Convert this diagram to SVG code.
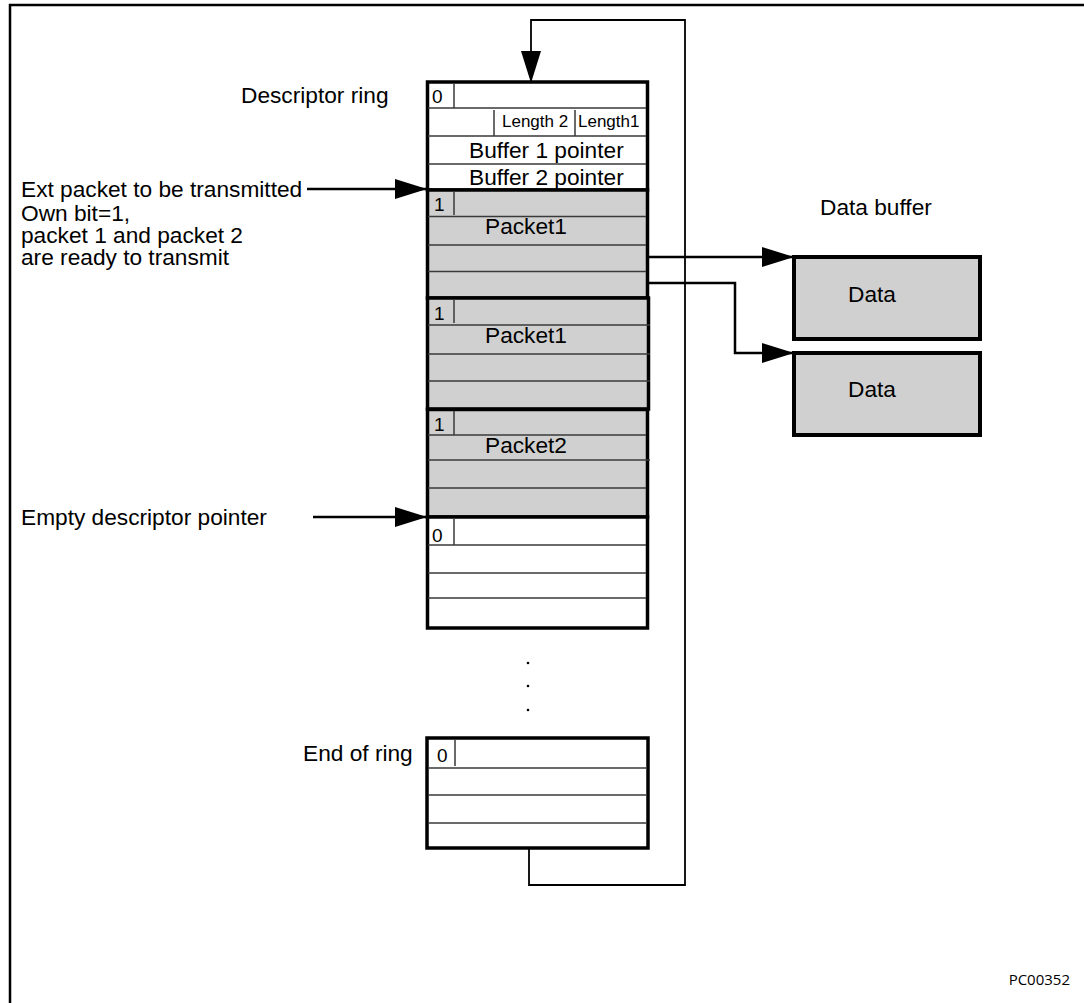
<svg xmlns="http://www.w3.org/2000/svg" width="1084" height="1003" viewBox="0 0 1084 1003">
<defs>
<style>
text{font-family:"Liberation Sans",Arial,sans-serif;fill:#000}
.lbl{font-size:22.7px}
.sm{font-size:17px}
.bit{font-size:19px}
.blk{stroke:#000;stroke-width:3.5}
.w{fill:#fff}
.g{fill:#d0d0d0}
.row{stroke:#3a3a3a;stroke-width:1.5;fill:none}
.con{stroke:#000;stroke-width:2.5;fill:none}
.loop{stroke:#000;stroke-width:1.8;fill:none}
.data{fill:#d0d0d0;stroke:#000;stroke-width:4}
</style>
<marker id="ah" markerUnits="userSpaceOnUse" markerWidth="32" markerHeight="20" viewBox="0 0 32 20" refX="31" refY="10" orient="auto">
<path d="M0,0 L32,10 L0,20 Z" fill="#000"/>
</marker>
</defs>
<rect width="1084" height="1003" fill="#fff"/>
<path d="M10,1003 V5 H1084" fill="none" stroke="#000" stroke-width="2.5"/>

<g id="connectors">
<path class="loop" d="M529,848 V885 H685 V20 H531 V82" marker-end="url(#ah)"/>
<path class="con" d="M307,189 H426" marker-end="url(#ah)"/>
<path class="con" d="M313,517 H426" marker-end="url(#ah)"/>
<path class="con" d="M649,257 H793" marker-end="url(#ah)"/>
<path class="con" d="M649,283 H735 V353 H793" marker-end="url(#ah)"/>
</g>

<g id="desc-header">
<rect class="blk w" x="427.5" y="82" width="220" height="108"/>
<path class="row" d="M428,108 H646 M428,136 H646 M428,164 H646 M454,84 V108 M494,110 V136 M575,110 V136"/>
<text class="bit" x="432" y="103">0</text>
<text class="sm" x="502" y="127">Length 2</text>
<text class="sm" x="578" y="127">Length1</text>
<text class="lbl" x="469" y="158">Buffer 1 pointer</text>
<text class="lbl" x="469" y="185">Buffer 2 pointer</text>
</g>

<g id="desc-packet1a">
<rect class="blk g" x="427.5" y="190" width="220" height="108"/>
<path class="row" d="M428,216.5 H646 M428,245 H646 M428,271.5 H646 M454,192 V215"/>
<text class="bit" x="434" y="211">1</text>
<text class="lbl" x="485" y="234">Packet1</text>
</g>

<g id="desc-packet1b">
<rect class="blk g" x="427.5" y="298" width="221" height="111"/>
<path class="row" d="M428,325 H650 M428,354 H650 M428,381 H650 M454,300 V323"/>
<text class="bit" x="434" y="320">1</text>
<text class="lbl" x="485" y="343">Packet1</text>
</g>

<g id="desc-packet2">
<rect class="blk g" x="427.5" y="409.5" width="220" height="107.5"/>
<path class="row" d="M428,435 H646 M428,460 H650 M428,488 H646 M454,411 V435"/>
<text class="bit" x="434" y="431">1</text>
<text class="lbl" x="485" y="453">Packet2</text>
</g>

<g id="desc-empty">
<rect class="blk w" x="427.5" y="517" width="220" height="111"/>
<path class="row" d="M428,545 H646 M428,573 H646 M428,598 H646 M454,519 V545"/>
<text class="bit" x="432" y="542">0</text>
</g>

<g id="ellipsis">
<circle cx="528" cy="663" r="1.3" fill="#000"/>
<circle cx="528" cy="686" r="1.3" fill="#000"/>
<circle cx="528" cy="710" r="1.3" fill="#000"/>
</g>

<g id="desc-end">
<rect class="blk w" x="427" y="738" width="221" height="110"/>
<path class="row" d="M428,768 H646 M428,795 H646 M428,823 H646 M455,740 V766"/>
<text class="bit" x="437" y="762">0</text>
</g>

<g id="data1">
<rect class="data" x="794" y="257" width="186" height="82"/>
<text class="lbl" x="848" y="302">Data</text>
</g>
<g id="data2">
<rect class="data" x="794" y="353" width="186" height="82"/>
<text class="lbl" x="848" y="397">Data</text>
</g>

<g id="labels">
<text class="lbl" x="241" y="103">Descriptor ring</text>
<text class="lbl" x="21" y="197">Ext packet to be transmitted</text>
<text class="lbl" x="21" y="221">Own bit=1,</text>
<text class="lbl" x="21" y="243">packet 1 and packet 2</text>
<text class="lbl" x="21" y="265">are ready to transmit</text>
<text class="lbl" x="21" y="525">Empty descriptor pointer</text>
<text class="lbl" x="303" y="761">End of ring</text>
<text class="lbl" x="820" y="215">Data buffer</text>
<text x="1070" y="985" text-anchor="end" style="font-family:'Open Sans','Noto Sans',sans-serif;font-size:15px">PC00352</text>
</g>
</svg>
